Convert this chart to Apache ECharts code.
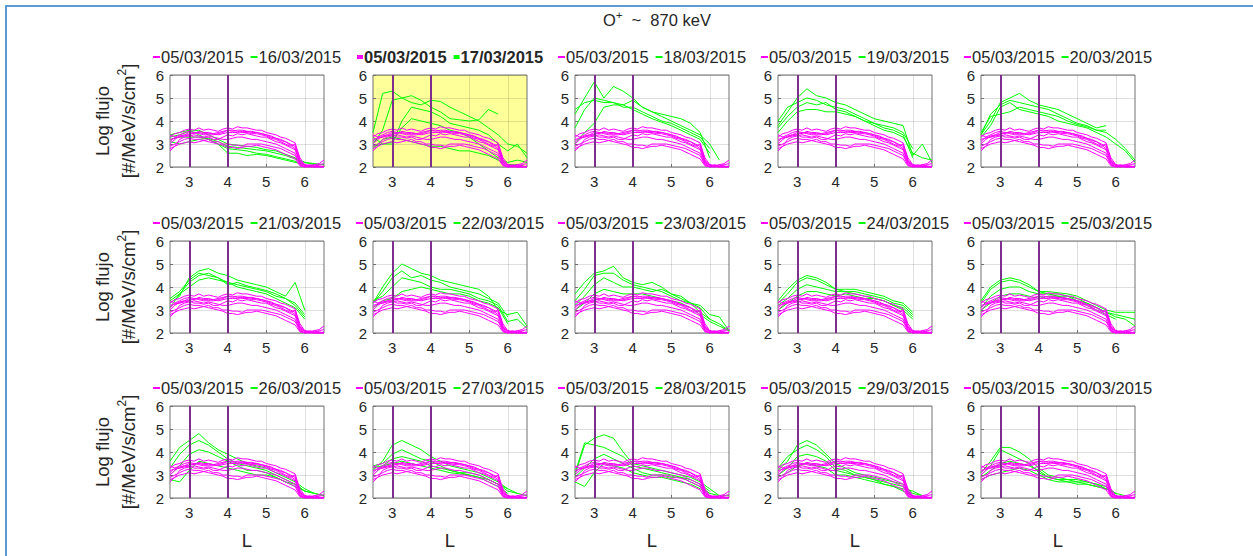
<!DOCTYPE html>
<html><head><meta charset="utf-8">
<script src="https://cdn.jsdelivr.net/npm/echarts@6/dist/echarts.min.js"></script>
<style>html,body{margin:0;padding:0;background:#fff}#c{width:1253px;height:556px}</style>
</head><body><div id="c"></div>
<script>
// ---------------- DATA ----------------
const L_GRID = [2.5,2.75,3,3.25,3.5,3.75,4,4.25,4.5,4.75,5,5.25,5.5,5.75,6,6.25,6.5];
const BASE_L = [2.5,2.625,2.75,2.875,3,3.125,3.25,3.375,3.5,3.625,3.75,3.875,4,4.125,4.25,4.375,4.5,
                4.625,4.75,4.875,5,5.125,5.25,5.375,5.5,5.625,5.75,5.875,6,6.125,6.25,6.375,6.5];
const X_TICKS = [3,4,5,6];
const Y_TICKS = [2,3,4,5,6];
const VLINES = [3,4];
const BASE_DATE = '05/03/2015';
const DATES = ['16/03/2015','17/03/2015','18/03/2015','19/03/2015','20/03/2015',
               '21/03/2015','22/03/2015','23/03/2015','24/03/2015','25/03/2015',
               '26/03/2015','27/03/2015','28/03/2015','29/03/2015','30/03/2015'];
const HIGHLIGHT = '17/03/2015';

// baseline passes of 05/03/2015 (magenta), log flux vs BASE_L
const BASE_0503 = [
 [3.3,3.45,3.5,3.6,3.65,3.6,3.7,3.6,3.65,3.6,3.55,3.65,3.7,3.65,3.75,3.7,3.7,3.65,3.6,3.6,3.5,3.45,3.4,3.3,3.25,3.15,3.05,2.3,2.05,2.1,2.05,2.1,2.15],
 [3.0,3.2,3.35,3.4,3.5,3.45,3.55,3.5,3.5,3.45,3.5,3.55,3.6,3.55,3.6,3.6,3.55,3.55,3.5,3.45,3.4,3.35,3.25,3.2,3.1,3.0,2.9,2.2,2.05,2.0,2.1,2.05,2.0],
 [3.4,3.3,3.3,3.35,3.4,3.3,3.3,3.25,3.3,3.2,3.2,3.3,3.4,3.35,3.45,3.4,3.45,3.4,3.35,3.3,3.3,3.2,3.1,3.05,2.95,2.85,2.75,2.15,2.0,2.05,2.0,2.0,2.05],
 [2.8,2.9,3.0,3.05,3.1,3.05,3.1,3.15,3.1,3.05,3.0,2.95,2.85,2.85,2.8,2.85,2.9,2.9,2.95,2.9,2.85,2.8,2.75,2.65,2.55,2.45,2.35,2.05,2.0,2.0,2.0,2.0,2.0],
 [2.9,3.0,3.1,3.2,3.25,3.2,3.2,3.15,3.2,3.1,3.1,3.0,3.0,2.95,2.95,2.9,3.0,3.0,3.0,3.0,2.95,2.9,2.85,2.8,2.7,2.6,2.5,2.1,2.0,2.05,2.0,2.0,2.0],
 [3.2,3.25,3.3,3.4,3.4,3.5,3.5,3.45,3.45,3.45,3.4,3.45,3.5,3.5,3.5,3.55,3.55,3.5,3.5,3.45,3.4,3.3,3.25,3.15,3.1,2.95,2.8,2.25,2.1,2.05,2.1,2.15,2.3],
 [2.7,2.9,3.2,3.3,3.35,3.4,3.35,3.3,3.35,3.3,3.25,3.2,3.2,3.25,3.3,3.3,3.25,3.2,3.2,3.15,3.1,3.05,3.0,2.9,2.8,2.7,2.6,2.1,2.0,2.0,2.0,2.0,2.0],
 [3.1,3.3,3.4,3.5,3.55,3.5,3.45,3.4,3.4,3.4,3.45,3.5,3.6,3.6,3.55,3.5,3.5,3.45,3.45,3.4,3.35,3.25,3.2,3.1,3.0,2.9,3.0,2.4,2.1,2.05,2.0,2.0,2.0]
];

// comparison-day passes (green), log flux vs L_GRID
const G_1603 = [
 [3.3,3.4,3.55,3.6,3.4,3.2,3.0,2.95,2.9,2.85,2.75,2.7,2.55,2.4,2.2,2.1,2.1],
 [3.2,3.3,3.3,3.3,3.2,3.0,2.8,2.75,2.7,2.6,2.55,2.45,2.35,2.25,2.1,null,null],
 [3.4,3.5,3.6,3.4,3.2,3.0,2.6,2.6,2.5,2.55,2.5,2.4,2.3,2.2,2.1,null,null],
 [3.1,3.0,3.1,3.2,3.25,3.1,2.9,2.85,2.8,2.75,2.7,2.6,2.5,2.35,2.2,2.15,2.1]
];
const G_1703 = [
 [3.5,5.2,5.3,5.0,5.1,4.9,4.6,4.4,4.1,4.05,4.0,4.05,4.5,4.3,null,null,null],
 [3.0,3.6,4.9,5.0,4.8,4.7,4.9,4.85,4.6,4.4,4.2,4.0,3.7,3.4,3.0,2.9,2.6],
 [2.9,3.0,3.0,4.0,4.6,4.5,4.4,4.2,3.9,3.8,3.7,3.6,3.4,3.0,2.7,3.0,2.4],
 [3.3,3.0,3.1,3.7,4.1,4.0,3.9,3.8,3.6,3.5,3.3,3.0,2.7,2.4,2.2,2.3,2.2],
 [2.8,3.2,3.3,3.2,3.1,3.0,2.9,2.9,2.8,2.7,2.7,2.6,2.5,2.3,2.1,2.1,2.0]
];
const G_1803 = [
 [4.3,5.0,5.7,5.0,5.5,5.3,5.0,4.6,4.4,4.3,4.2,4.1,3.9,3.5,2.4,null,null],
 [3.7,4.5,5.0,4.9,4.8,4.7,4.9,4.6,4.4,4.2,4.0,3.8,3.6,3.4,3.0,2.3,null],
 [4.5,4.8,4.9,4.8,4.8,4.6,4.6,4.4,4.2,4.0,3.9,3.7,3.5,3.3,2.8,null,null],
 [3.0,3.5,3.9,4.6,4.7,4.7,4.5,4.3,4.1,3.95,3.8,3.6,3.4,3.2,2.6,null,null]
];
const G_1903 = [
 [3.8,4.4,5.0,5.4,5.1,5.0,4.8,4.7,4.5,4.3,4.1,4.0,3.9,3.8,2.5,3.0,2.2],
 [4.0,4.6,4.8,5.0,4.9,4.7,4.6,4.5,4.3,4.1,3.9,3.8,3.7,3.5,2.8,null,null],
 [3.5,4.0,4.4,4.5,4.5,4.4,4.4,4.3,4.2,4.0,3.8,3.6,3.5,3.3,2.6,2.4,2.3],
 [3.7,4.2,4.6,4.8,4.7,4.8,4.5,4.4,4.2,4.0,3.9,3.7,3.6,3.4,2.4,null,null]
];
const G_2003 = [
 [3.4,4.0,4.8,5.0,5.2,4.9,4.7,4.6,4.5,4.3,4.1,3.9,3.7,3.8,null,null,null],
 [3.4,4.3,4.7,4.9,4.8,4.7,4.6,4.5,4.3,4.1,3.9,3.8,3.6,3.5,3.2,2.8,2.3],
 [3.3,3.8,4.6,4.8,4.5,4.4,4.3,4.2,4.0,3.9,3.8,3.7,3.5,3.3,3.0,2.7,2.2],
 [3.5,4.2,4.3,4.4,4.6,4.5,4.4,4.3,4.2,4.0,3.85,3.75,3.6,3.6,null,null,null]
];
const G_2103 = [
 [3.3,3.6,4.4,4.7,4.8,4.6,4.5,4.3,4.2,4.1,4.0,3.8,3.6,4.2,3.0,null,null],
 [3.4,3.7,4.2,4.5,4.6,4.4,4.2,4.1,4.0,3.9,3.8,3.6,3.5,3.3,2.8,null,null],
 [3.1,3.7,4.0,4.3,4.4,4.3,4.2,4.0,3.9,3.8,3.7,3.5,3.3,3.1,2.6,null,null],
 [3.5,3.8,4.3,4.6,4.5,4.4,4.1,4.2,4.05,3.95,3.85,3.7,3.5,3.2,2.7,null,null]
];
const G_2203 = [
 [3.3,4.0,4.6,5.0,4.8,4.6,4.5,4.3,4.2,4.1,4.0,3.9,3.6,3.0,2.8,2.9,2.3],
 [3.3,3.8,4.4,4.7,4.4,4.5,4.3,4.2,4.0,3.9,3.8,3.7,3.5,3.3,2.7,null,null],
 [3.4,3.6,4.0,4.4,4.3,4.2,4.0,3.9,3.9,3.8,3.7,3.5,3.4,3.2,2.5,2.6,2.2],
 [3.1,3.4,3.5,3.8,3.9,4.0,3.9,3.8,3.7,3.7,3.6,3.4,3.3,3.1,2.4,null,null]
];
const G_2303 = [
 [3.7,4.2,4.6,4.7,4.9,4.4,4.2,4.1,4.2,4.0,3.7,3.5,3.3,3.2,2.8,2.7,2.1],
 [3.4,3.9,4.5,4.6,4.6,4.3,4.1,4.0,3.9,3.8,3.6,3.4,3.3,3.1,2.6,null,null],
 [3.2,3.6,4.1,4.4,4.2,4.0,4.0,3.9,3.8,3.9,3.7,3.6,3.3,2.9,2.6,2.4,2.1],
 [3.0,3.3,3.7,3.9,3.8,3.7,3.7,3.7,3.6,3.5,3.4,3.3,3.1,2.8,2.5,2.3,2.1]
];
const G_2403 = [
 [3.4,3.9,4.3,4.5,4.4,4.2,3.9,3.9,3.9,3.8,3.7,3.6,3.4,3.3,2.9,null,null],
 [3.3,3.7,4.2,4.4,4.3,4.1,3.9,3.8,3.8,3.7,3.6,3.5,3.3,3.2,2.8,null,null],
 [3.2,3.5,3.9,4.1,4.0,3.9,3.8,3.8,3.7,3.6,3.5,3.4,3.2,3.0,2.6,null,null],
 [3.0,3.3,3.6,3.8,3.8,3.7,3.6,3.7,3.6,3.5,3.5,3.4,3.2,3.1,2.7,null,null]
];
const G_2503 = [
 [3.4,4.0,4.3,4.4,4.3,4.1,3.8,3.8,3.75,3.7,3.6,3.4,3.2,3.0,2.9,2.9,2.9],
 [3.3,3.9,4.2,4.3,4.2,4.0,3.8,3.7,3.7,3.6,3.5,3.3,3.1,2.9,2.8,2.7,2.6],
 [3.1,3.6,3.9,4.0,4.0,3.8,3.7,3.7,3.6,3.6,3.4,3.3,3.1,2.9,2.7,2.6,2.3],
 [3.0,3.3,3.6,3.7,3.7,3.6,3.5,3.6,3.6,3.5,3.4,3.2,3.0,2.8,2.6,null,null]
];
const G_2603 = [
 [3.6,4.2,4.5,4.8,4.4,4.1,3.9,3.7,3.5,3.4,3.3,3.1,2.9,2.7,2.4,2.2,2.1],
 [3.3,3.9,4.3,4.5,4.3,4.0,3.7,3.5,3.4,3.3,3.2,3.0,2.8,2.6,2.3,2.2,null],
 [3.0,3.4,3.9,4.1,4.0,3.8,3.6,3.4,3.2,3.2,3.1,2.9,2.7,2.6,2.3,null,null],
 [2.8,2.7,3.2,3.6,3.5,3.4,3.3,3.2,3.1,3.0,3.0,2.9,2.7,2.5,2.3,2.2,2.1]
];
const G_2703 = [
 [3.2,3.6,4.3,4.5,4.3,4.1,3.8,3.6,3.4,3.3,3.2,3.1,2.9,2.7,2.4,2.2,null],
 [3.4,3.5,3.9,4.1,3.9,3.7,3.6,3.4,3.2,3.1,3.1,3.0,2.8,2.6,2.3,2.2,2.1],
 [3.0,3.4,3.7,3.8,3.7,3.6,3.4,3.3,3.2,3.1,3.0,2.9,2.8,2.6,2.4,null,null],
 [3.3,3.4,3.5,3.6,3.5,3.4,3.3,3.2,3.1,3.05,3.0,2.9,2.7,2.5,2.2,null,null]
];
const G_2803 = [
 [3.0,4.3,4.6,4.75,4.6,4.0,3.5,3.4,3.3,3.2,3.1,3.0,2.9,2.7,2.4,2.1,null],
 [3.1,4.4,4.3,4.2,4.0,3.8,3.4,3.3,3.2,3.1,3.0,2.9,2.8,2.6,2.3,null,null],
 [2.9,3.3,3.7,3.9,3.7,3.5,3.3,3.1,3.0,3.0,2.9,2.9,2.7,2.5,2.2,null,null],
 [2.7,2.5,3.1,3.5,3.4,3.3,3.1,3.0,2.9,2.9,2.8,2.7,2.6,2.4,2.2,2.1,2.1]
];
const G_2903 = [
 [3.2,3.6,4.3,4.5,4.3,3.9,3.5,3.3,3.1,3.0,2.9,2.8,2.7,2.6,2.2,2.1,null],
 [3.3,3.8,4.1,4.3,4.1,3.8,3.3,3.2,3.0,2.9,2.8,2.7,2.6,2.5,2.1,null,null],
 [3.0,3.3,3.8,3.9,3.8,3.6,3.2,3.1,3.0,2.9,2.8,2.6,2.5,2.4,2.3,2.1,null],
 [2.9,3.1,3.4,3.5,3.4,3.3,3.0,3.0,2.9,2.8,2.7,2.6,2.5,2.3,2.1,null,null]
];
const G_3003 = [
 [3.1,3.6,4.2,4.2,4.0,3.7,3.3,3.0,2.9,2.8,2.8,2.7,2.6,2.5,2.2,2.1,null],
 [3.0,3.4,4.1,3.9,3.7,3.5,3.1,2.9,2.8,2.8,2.7,2.7,2.6,2.4,2.2,null,null],
 [2.9,3.2,3.5,3.6,3.5,3.4,3.2,2.9,2.8,2.7,2.7,2.6,2.5,2.4,2.2,null,null],
 [2.8,3.0,3.1,3.2,3.3,3.2,3.0,2.8,2.7,2.7,2.6,2.6,2.5,2.4,2.2,null,null]
];
const PANELS = [G_1603,G_1703,G_1803,G_1903,G_2003,G_2103,G_2203,G_2303,G_2403,G_2503,G_2603,G_2703,G_2803,G_2903,G_3003];

// ---------------- STYLE / LAYOUT ----------------
const FONT = '"Liberation Sans", Arial, Helvetica, sans-serif';
const TXT = '#262626';
const MAGENTA = '#ff00ff', GREEN = '#00ff00', PURPLE = '#7e2f8e';
const BOX = '#707070', GRIDC = 'rgba(38,38,38,0.15)';
const COL_LEFT = [170, 373, 575, 778, 981];
const ROW_TOP = [75, 241, 406];
const PW = 154, PH = 92;
const LEG_FS = 16.5;
const LEG_SHIFT = 4;

const ctx = document.createElement('canvas').getContext('2d');
function textW(t, bold){ ctx.font = (bold?'bold ':'') + LEG_FS + 'px ' + FONT; return ctx.measureText(t).width; }

const grids = [], xAxes = [], yAxes = [], legends = [], series = [];
PANELS.forEach((greens, i) => {
  const r = Math.floor(i/5), c = i%5;
  const left = COL_LEFT[c], top = ROW_TOP[r];
  const hl = DATES[i] === HIGHLIGHT;
  grids.push({left, top, width: PW, height: PH, show: true, borderColor: BOX, borderWidth: 1,
              backgroundColor: hl ? '#ffff99' : 'transparent'});
  xAxes.push({gridIndex: i, type: 'value', min: 2.5, max: 6.5, splitNumber: 4,
    axisLine: {show: false},
    axisTick: {show: true, inside: true, length: 3, customValues: X_TICKS, lineStyle: {color: BOX}},
    axisLabel: {customValues: X_TICKS, fontSize: 15, color: TXT, margin: 7, fontFamily: FONT},
    splitLine: {show: true, lineStyle: {color: GRIDC, width: 1}},
    name: r === 2 ? 'L' : '', nameLocation: 'middle', nameGap: 33,
    nameTextStyle: {fontSize: 18.5, color: TXT, fontFamily: FONT}});
  yAxes.push({gridIndex: i, type: 'value', min: Y_TICKS[0], max: Y_TICKS[Y_TICKS.length-1], interval: 1,
    axisLine: {show: false},
    axisTick: {show: true, inside: true, length: 3, lineStyle: {color: BOX}},
    axisLabel: {fontSize: 15, color: TXT, margin: 6, fontFamily: FONT},
    splitLine: {show: true, lineStyle: {color: GRIDC, width: 1}}});
  const iw = hl ? 6 : 7, ih = hl ? 4 : 2, gap = 7;
  const w = 2*(iw + 5 - LEG_SHIFT) + textW(BASE_DATE, hl) + gap + textW(DATES[i], hl);
  legends.push({left: Math.round(left + PW/2 - w/2), top: top - 27, padding: 0, itemGap: gap,
    itemWidth: iw, itemHeight: ih, icon: 'rect', selectedMode: false,
    data: [BASE_DATE, DATES[i]],
    textStyle: {fontSize: LEG_FS, fontWeight: hl ? 'bold' : 'normal', color: TXT, fontFamily: FONT,
                lineHeight: 18, padding: [0, 0, 0, -LEG_SHIFT]}});
  const mk = (name, color, xs, vals) => ({type: 'line', name, xAxisIndex: i, yAxisIndex: i,
    data: xs.map((l, j) => vals[j] == null ? null : [l, vals[j]]).filter(Boolean),
    showSymbol: false, symbol: 'none', color, itemStyle: {color}, lineStyle: {width: 1, color},
    silent: true, animation: false, emphasis: {disabled: true}});
  greens.forEach(v => series.push(mk(DATES[i], GREEN, L_GRID, v)));
  BASE_0503.forEach((v, k) => {
    const s = mk(BASE_DATE, MAGENTA, BASE_L, v);
    if (k === BASE_0503.length - 1) {
      s.markLine = {silent: true, symbol: 'none', animation: false, z: 5,
        label: {show: false}, lineStyle: {color: PURPLE, width: 2, type: 'solid'},
        emphasis: {disabled: true},
        data: VLINES.map(x => ({xAxis: x}))};
    }
    series.push(s);
  });
});

const graphics = [
  {type: 'rect', shape: {x: 6, y: 6, width: 1300, height: 600}, style: {fill: 'none', stroke: '#5b9bd5', lineWidth: 2}, silent: true},
  {type: 'text', x: 657, y: 20, silent: true, style: {
    text: '{n|O}{s|+}{n|  ~  870 keV}', textAlign: 'center', textVerticalAlign: 'middle',
    rich: {n: {fontSize: 16.5, fontFamily: FONT, fill: TXT, lineHeight: 22},
           s: {fontSize: 11, fontFamily: FONT, fill: TXT, lineHeight: 11, verticalAlign: 'top'}}}}
];
ROW_TOP.forEach(t => {
  const cy = t + PH/2;
  graphics.push({type: 'text', x: 102, y: cy, rotation: Math.PI/2, silent: true,
    style: {text: 'Log flujo', font: '18.5px ' + FONT, fill: TXT, textAlign: 'center', textVerticalAlign: 'middle'}});
  graphics.push({type: 'text', x: 128, y: cy, rotation: Math.PI/2, silent: true,
    style: {text: '{n|[#/MeV/s/cm}{s|2}{n|]}', textAlign: 'center', textVerticalAlign: 'middle',
      rich: {n: {fontSize: 18.5, fontFamily: FONT, fill: TXT, lineHeight: 24},
             s: {fontSize: 12, fontFamily: FONT, fill: TXT, lineHeight: 12, verticalAlign: 'top'}}}});
});

const chart = echarts.init(document.getElementById('c'), null, {renderer: 'svg'});
chart.setOption({
  backgroundColor: '#ffffff',
  animation: false,
  grid: grids, xAxis: xAxes, yAxis: yAxes, legend: legends, series,
  graphic: graphics
});
</script></body></html>
